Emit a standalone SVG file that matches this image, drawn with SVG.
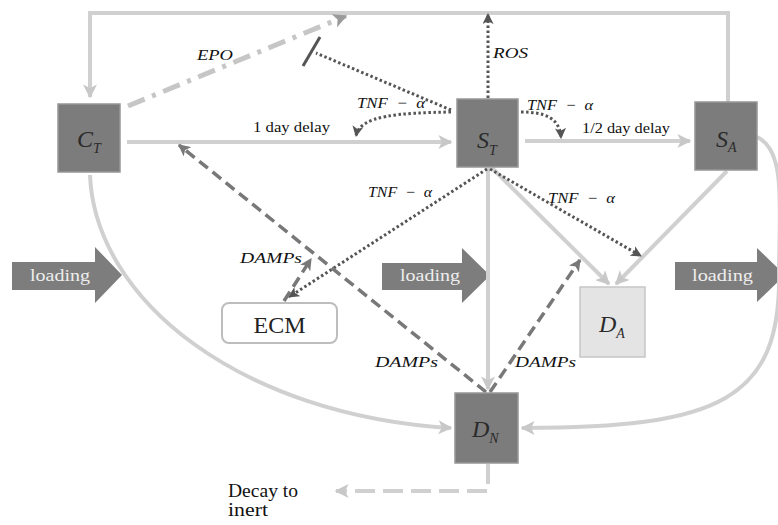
<svg xmlns="http://www.w3.org/2000/svg" width="778" height="525" viewBox="0 0 778 525">
<style>
.serif{font-family:"Liberation Serif","Times New Roman",Tinos,"DejaVu Serif","Noto Serif",serif}
.node{fill:#7c7c7c;stroke:#979797;stroke-width:1.5}
.nl{font-style:italic;fill:#2a2a2a;font-size:24px}
.sub{font-size:14px}
.math{font-style:italic;font-size:15px;fill:#111}
.txt{font-size:15px;fill:#111}
.big{font-size:18px;fill:#111}
.flow{fill:none;stroke:#d0d0d0;stroke-width:4}
.dot{fill:none;stroke:#555;stroke-width:3;stroke-dasharray:2.5 2.5}
.dash{fill:none;stroke:#787878;stroke-width:3.5;stroke-dasharray:11 6}
.load{fill:#7d7d7d}
.loadtxt{font-size:17px;fill:#eeeeee}
</style>
<defs>
<marker id="ah-light" viewBox="0 0 10 10" refX="9" refY="5" markerUnits="userSpaceOnUse" markerWidth="14" markerHeight="14" orient="auto">
<path d="M0,0 L10,5 L0,10 L2.5,5 z" fill="#c8c8c8"/>
</marker>
<marker id="ah-dark" viewBox="0 0 10 10" refX="9" refY="5" markerUnits="userSpaceOnUse" markerWidth="11" markerHeight="11" orient="auto">
<path d="M0,0 L10,5 L0,10 L2.5,5 z" fill="#555"/>
</marker>
<marker id="ah-dash" viewBox="0 0 10 10" refX="9" refY="5" markerUnits="userSpaceOnUse" markerWidth="12" markerHeight="12" orient="auto">
<path d="M0,0 L10,5 L0,10 L2.5,5 z" fill="#787878"/>
</marker>
<marker id="ah-epo" viewBox="0 0 10 10" refX="9" refY="5" markerUnits="userSpaceOnUse" markerWidth="14" markerHeight="14" orient="auto">
<path d="M0,0 L10,5 L0,10 L2.5,5 z" fill="#9a9a9a"/>
</marker>
</defs>
<rect width="778" height="525" fill="#fff"/>

<!-- loading block arrows -->
<g id="load-left">
<path class="load" d="M12,262 H95 V247 L122,275 L95,303 V290 H12 z"/>
<text class="serif loadtxt" x="30" y="281" textLength="60" lengthAdjust="spacingAndGlyphs">loading</text>
</g>
<g id="load-mid">
<path class="load" d="M382,263 H462 V248 L490,275.5 L462,303 V290 H382 z"/>
<text class="serif loadtxt" x="400" y="281" textLength="60" lengthAdjust="spacingAndGlyphs">loading</text>
</g>
<g id="load-right">
<path class="load" d="M675,262 H757 V248 L785,275 L757,302 V290 H675 z"/>
<text class="serif loadtxt" x="692" y="281" textLength="61" lengthAdjust="spacingAndGlyphs">loading</text>
</g>

<g id="connectors">
<!-- cell transitions -->
<path class="flow" d="M728,102 V13 H90 V97" marker-end="url(#ah-light)"/>
<path class="flow" d="M127,142 H451" marker-end="url(#ah-light)"/>
<path class="flow" d="M525,141 H690" marker-end="url(#ah-light)"/>
<path class="flow" d="M90,175 C95,300 240,415 451,428" marker-end="url(#ah-light)"/>
<path class="flow" d="M757,137 C785,150 780,200 779,270 C782,400 720,428 522,428" marker-end="url(#ah-light)"/>
<path class="flow" d="M488,168 V389" marker-end="url(#ah-light)"/>
<path class="flow" d="M492,168 L609,284" marker-end="url(#ah-light)"/>
<path class="flow" d="M727,171 L616,284" marker-end="url(#ah-light)"/>
<path class="flow" d="M488,464 V491 H336" stroke-dasharray="20 8" marker-end="url(#ah-light)"/>
<!-- EPO -->
<path d="M128,106 L346,16" fill="none" stroke="#c6c6c6" stroke-width="5" stroke-dasharray="18 8 4 8" marker-end="url(#ah-epo)"/>
<!-- TNF-alpha and ROS signals -->
<path class="dot" d="M451,110 L316,53"/>
<path d="M303,66 L320,37" stroke="#555" stroke-width="3" fill="none"/>
<path class="dot" d="M451,112 C400,113 360,115 356,136" marker-end="url(#ah-dark)"/>
<path class="dot" d="M521,112 C545,112 560,118 561,138" marker-end="url(#ah-dark)"/>
<path class="dot" d="M488,98 V14" marker-end="url(#ah-dark)"/>
<path class="dot" d="M487,169 L289,297" marker-end="url(#ah-dark)"/>
<path class="dot" d="M490,169 L641,256" marker-end="url(#ah-dark)"/>
<!-- DAMPs -->
<path class="dash" d="M486,392 L179,145" marker-end="url(#ah-dash)"/>
<path class="dash" d="M490,392 L580,260" marker-end="url(#ah-dash)"/>
<path class="dash" d="M284,301 L311,259" marker-end="url(#ah-dash)"/>
</g>

<!-- connector labels -->
<g id="labels" class="serif">
<text class="math" x="197" y="60" textLength="36" lengthAdjust="spacingAndGlyphs">EPO</text>
<text class="math" x="493" y="58" textLength="35" lengthAdjust="spacingAndGlyphs">ROS</text>
<text class="math" x="357" y="108" xml:space="preserve" textLength="68" lengthAdjust="spacingAndGlyphs">TNF  −  α</text>
<text class="math" x="527" y="110" xml:space="preserve" textLength="66" lengthAdjust="spacingAndGlyphs">TNF  −  α</text>
<text class="math" x="368" y="197" xml:space="preserve" textLength="64" lengthAdjust="spacingAndGlyphs">TNF  −  α</text>
<text class="math" x="548" y="203" xml:space="preserve" textLength="67" lengthAdjust="spacingAndGlyphs">TNF  −  α</text>
<text class="math" x="240" y="263" textLength="62" lengthAdjust="spacingAndGlyphs">DAMPs</text>
<text class="math" x="375" y="367" textLength="63" lengthAdjust="spacingAndGlyphs">DAMPs</text>
<text class="math" x="515" y="367" textLength="61" lengthAdjust="spacingAndGlyphs">DAMPs</text>
<text class="txt" x="253" y="132" textLength="77" lengthAdjust="spacingAndGlyphs">1 day delay</text>
<text class="txt" x="582" y="133" textLength="88" lengthAdjust="spacingAndGlyphs">1/2 day delay</text>
<text class="big" x="228" y="497" textLength="70" lengthAdjust="spacingAndGlyphs">Decay to</text>
<text class="big" x="228" y="516" textLength="40" lengthAdjust="spacingAndGlyphs">inert</text>
</g>

<g id="C_T">
<rect class="node" x="58" y="104" width="62" height="68"/>
<text class="serif nl" x="77" y="147">C<tspan class="sub" dy="6">T</tspan></text>
</g>
<g id="S_T">
<rect class="node" x="457" y="99" width="61" height="68"/>
<text class="serif nl" x="477" y="148">S<tspan class="sub" dy="7">T</tspan></text>
</g>
<g id="S_A">
<rect class="node" x="695" y="102" width="62" height="68"/>
<text class="serif nl" x="716" y="147">S<tspan class="sub" dy="5">A</tspan></text>
</g>
<g id="D_A">
<rect x="580" y="287" width="65" height="70" fill="#e4e4e4" stroke="#c6c6c6" stroke-width="1.5"/>
<text class="serif nl" x="599" y="332">D<tspan class="sub" dy="6">A</tspan></text>
</g>
<g id="D_N">
<rect class="node" x="455" y="393" width="63" height="70"/>
<text class="serif nl" x="472" y="437">D<tspan class="sub" dy="6">N</tspan></text>
</g>
<g id="ECM">
<rect x="222" y="303" width="115" height="40" rx="7" fill="#fff" stroke="#bdbdbd" stroke-width="2"/>
<text class="serif" x="279.5" y="333" font-size="24" fill="#222" text-anchor="middle">ECM</text>
</g>
</svg>
